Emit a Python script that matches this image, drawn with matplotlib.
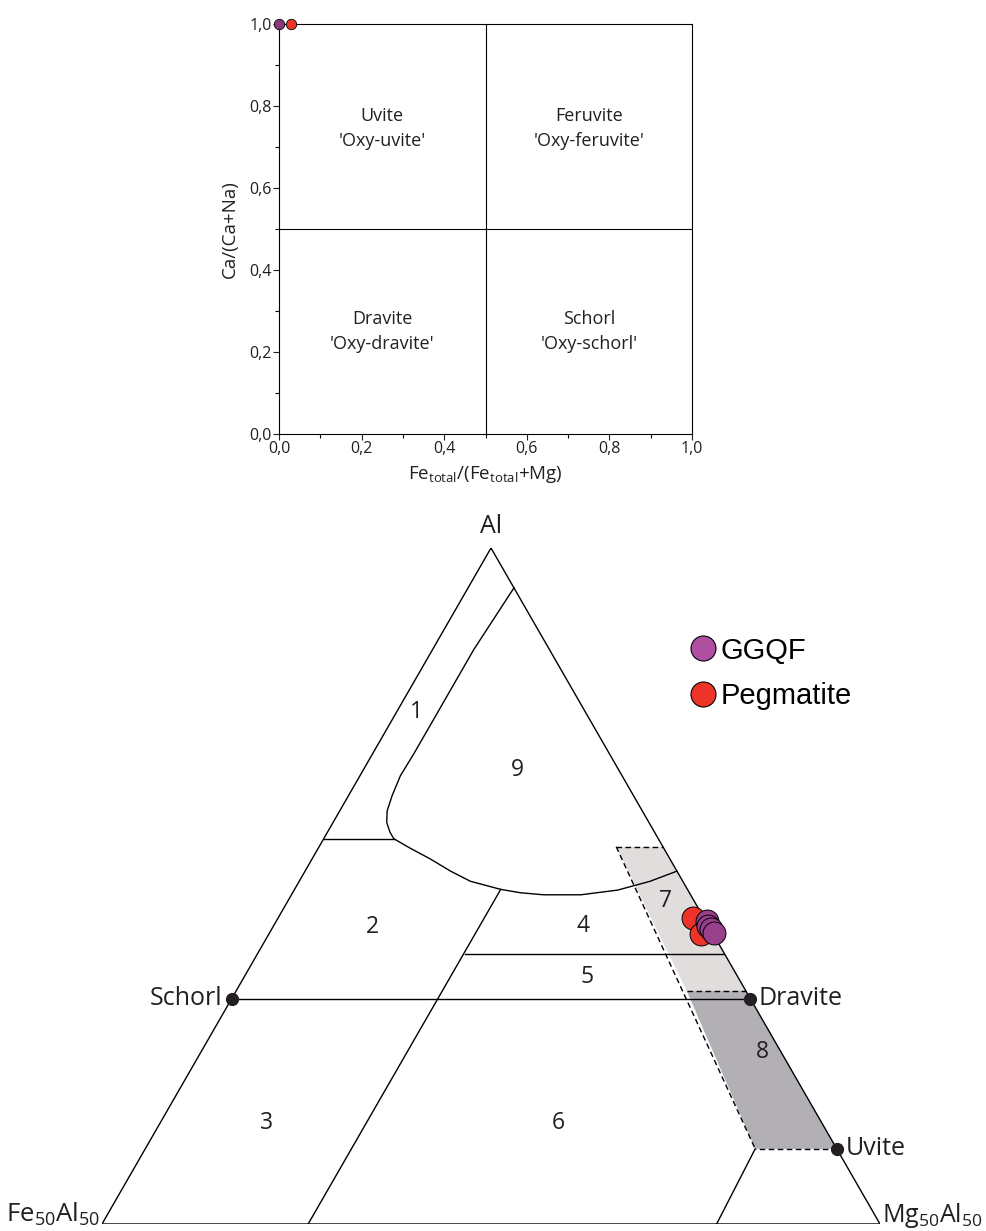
import numpy as np
import matplotlib.pyplot as plt
from matplotlib.lines import Line2D

plt.rcParams['font.family'] = ['Open Sans', 'DejaVu Sans']

# ---- top diagram: Ca/(Ca+Na) vs Fe/(Fe+Mg)
top_labels = ["Uvite\n'Oxy-uvite'", "Feruvite\n'Oxy-feruvite'",
              "Dravite\n'Oxy-dravite'", "Schorl\n'Oxy-schorl'"]
top_label_x = [0.25, 0.75, 0.25, 0.75]
top_label_y = [0.745, 0.745, 0.25, 0.25]
ggqf_fe_ratio = [0.0]
ggqf_ca_ratio = [1.0]
peg_fe_ratio = [0.028]
peg_ca_ratio = [1.0]

# ---- ternary Al - Fe50Al50 - Mg50Al50 (fractions of the three corners)
ggqf_al = [0.448, 0.441, 0.436, 0.430]
ggqf_mg = [0.554, 0.559, 0.565, 0.571]
peg_al = [0.453, 0.429]
peg_mg = [0.533, 0.555]

end_members = ['Schorl', 'Dravite', 'Uvite']
end_al = [1/3, 1/3, 1/9]
end_mg = [0.0, 2/3, 8/9]

# field boundaries (al, mg)
curve_al = [0.941, 0.850, 0.755, 0.696, 0.663, 0.634, 0.611, 0.594, 0.580, 0.570,
            0.556, 0.540, 0.522, 0.507, 0.499, 0.495, 0.490, 0.487, 0.487, 0.494,
            0.507, 0.522]
curve_mg = [0.059, 0.053, 0.053, 0.053, 0.052, 0.056, 0.061, 0.069, 0.080, 0.090,
            0.118, 0.152, 0.187, 0.220, 0.250, 0.265, 0.293, 0.324, 0.372, 0.416,
            0.451, 0.478]
solid_lines = [
    ([0.570, 0.570], [0.0, 0.090]),      # 1 / 2
    ([0.495, 0.0], [0.265, 0.265]),      # 2,3 / 4,5,6
    ([0.400, 0.400], [0.267, 0.600]),    # 4 / 5
    ([1/3, 1/3], [0.0, 2/3]),            # Schorl - Dravite
    ([1/9, 0.0], [0.784, 0.790]),        # near Mg corner
]
field7_al = [0.558, 0.558, 0.345, 0.345]
field7_mg = [0.382, 0.442, 0.655, 0.579]
field8_al = [0.345, 0.345, 1/9, 1/9]
field8_mg = [0.579, 0.655, 8/9, 0.784]

field_names = ['1', '2', '3', '4', '5', '6', '7', '8', '9']
field_al = [0.757, 0.44, 0.15, 0.441, 0.366, 0.15, 0.478, 0.255, 0.671]
field_mg = [0.025, 0.128, 0.137, 0.398, 0.441, 0.512, 0.485, 0.721, 0.199]

c_ggqf_top = '#8a3a7c'
c_ggqf = '#9a3f8c'
c_ggqf_leg = '#b04ea2'
c_peg = '#ee3328'
c_text = '#231f20'

W, H = 986, 1231
fig = plt.figure(figsize=(W / 100, H / 100), dpi=100)

# ---------------- top axes
ax1 = fig.add_axes([279 / W, 1 - 434 / H, 413 / W, 410 / H])
ax1.set_xlim(0, 1)
ax1.set_ylim(0, 1)
ax1.axvline(0.5, color='black', lw=0.8)
ax1.axhline(0.5, color='black', lw=0.8)
for t, x, y in zip(top_labels, top_label_x, top_label_y):
    ax1.text(x, y, t, ha='center', va='center', fontsize=13, color=c_text,
             linespacing=1.5)
ax1.plot(ggqf_fe_ratio, ggqf_ca_ratio, 'o', ms=7.5, mfc=c_ggqf_top, mec='black',
         mew=0.6, clip_on=False, zorder=5)
ax1.plot(peg_fe_ratio, peg_ca_ratio, 'o', ms=7.5, mfc=c_peg, mec='black',
         mew=0.6, clip_on=False, zorder=5)
ticks = np.arange(0, 1.01, 0.2)
ax1.set_xticks(ticks)
ax1.set_yticks(ticks)
ax1.set_xticklabels([f'{t:.1f}'.replace('.', ',') for t in ticks])
ax1.set_yticklabels([f'{t:.1f}'.replace('.', ',') for t in ticks])
ax1.set_xticks(np.arange(0.1, 1.0, 0.2), minor=True)
ax1.set_yticks(np.arange(0.1, 1.0, 0.2), minor=True)
ax1.tick_params(which='major', direction='out', length=4, width=0.8, labelsize=11.5,
                colors=c_text, pad=1)
ax1.tick_params(which='minor', direction='out', length=3, width=0.8)
for s in ax1.spines.values():
    s.set_linewidth(0.8)
ax1.set_xlabel(r'Fe$_{\mathregular{total}}$/(Fe$_{\mathregular{total}}$+Mg)',
               fontsize=13.5, color=c_text, labelpad=5)
ax1.set_ylabel('Ca/(Ca+Na)', fontsize=13.5, color=c_text, labelpad=8)

# ---------------- ternary axes
h = np.sqrt(3) / 2


def to_xy(al, mg):
    al = np.asarray(al, dtype=float)
    mg = np.asarray(mg, dtype=float)
    return mg + al / 2, al * h


ax2 = fig.add_axes([102 / W, 1 - 1224 / H, 778 / W, 676 / H])
ax2.set_xlim(0, 1)
ax2.set_ylim(0, h)
ax2.axis('off')

x, y = to_xy(field7_al, field7_mg)
ax2.fill(x, y, color='#e1dddd', lw=0, zorder=1)
x, y = to_xy(field8_al, field8_mg)
ax2.fill(x, y, color='#b2b0b5', lw=0, zorder=1)

x, y = to_xy([1, 0, 0, 1], [0, 0, 1, 0])
ax2.plot(x, y, color='black', lw=1.0, zorder=2, solid_joinstyle='miter')
x, y = to_xy(curve_al, curve_mg)
ax2.plot(x, y, color='black', lw=1.0, zorder=2)
for al, mg in solid_lines:
    x, y = to_xy(al, mg)
    ax2.plot(x, y, color='black', lw=1.0, zorder=2)

dash = (0, (4, 2.5))
x, y = to_xy(field7_al[:2], field7_mg[:2])
ax2.plot(x, y, color='black', lw=1.0, ls=dash, zorder=2)
x, y = to_xy([field7_al[0], field8_al[3]], [field7_mg[0], field8_mg[3]])
ax2.plot(x, y, color='black', lw=1.0, ls=dash, zorder=2)
x, y = to_xy(field8_al[:2], field8_mg[:2])
ax2.plot(x, y, color='black', lw=1.0, ls=dash, zorder=2)
x, y = to_xy(field8_al[2:], field8_mg[2:])
ax2.plot(x, y, color='black', lw=1.0, ls=dash, zorder=2)

for name, al, mg in zip(field_names, field_al, field_mg):
    x, y = to_xy(al, mg)
    ax2.text(x, y, name, ha='center', va='center', fontsize=16.5, color=c_text)

x, y = to_xy(end_al, end_mg)
ax2.plot(x, y, 'o', color=c_text, ms=8.5, zorder=4, clip_on=False)
for name, xx, yy in zip(end_members, x, y):
    if name == 'Schorl':
        ax2.text(xx - 0.012, yy, name, ha='right', va='center', fontsize=18, color=c_text)
    else:
        ax2.text(xx + 0.011, yy, name, ha='left', va='center', fontsize=18, color=c_text)

ax2.text(0.5, h + 0.012, 'Al', ha='center', va='bottom', fontsize=18, color=c_text)
ax2.text(-0.002, 0.003, r'Fe$_{\mathregular{50}}$Al$_{\mathregular{50}}$', ha='right',
         va='baseline', fontsize=18.5, color=c_text)
ax2.text(1.002, 0.003, r'Mg$_{\mathregular{50}}$Al$_{\mathregular{50}}$', ha='left',
         va='baseline', fontsize=18, color=c_text)

x, y = to_xy(peg_al, peg_mg)
ax2.plot(x, y, 'o', ms=16.5, mfc=c_peg, mec='black', mew=0.7, zorder=5, ls='none')
x, y = to_xy(ggqf_al, ggqf_mg)
ax2.plot(x, y, 'o', ms=16.5, mfc=c_ggqf, mec='black', mew=0.7, zorder=6, ls='none')

handles = [
    Line2D([], [], marker='o', ls='none', ms=18, mfc=c_ggqf_leg, mec='black', mew=0.8),
    Line2D([], [], marker='o', ls='none', ms=18, mfc=c_peg, mec='black', mew=0.8),
]
fig.legend(handles, ['GGQF', 'Pegmatite'], loc='upper left',
           bbox_to_anchor=(674 / W, 1 - 622 / H), frameon=False,
           prop={'family': 'Liberation Sans', 'size': 21}, handletextpad=0.1,
           labelspacing=0.6, borderpad=0, handlelength=1.0)

fig.savefig('out.png', dpi=100)
